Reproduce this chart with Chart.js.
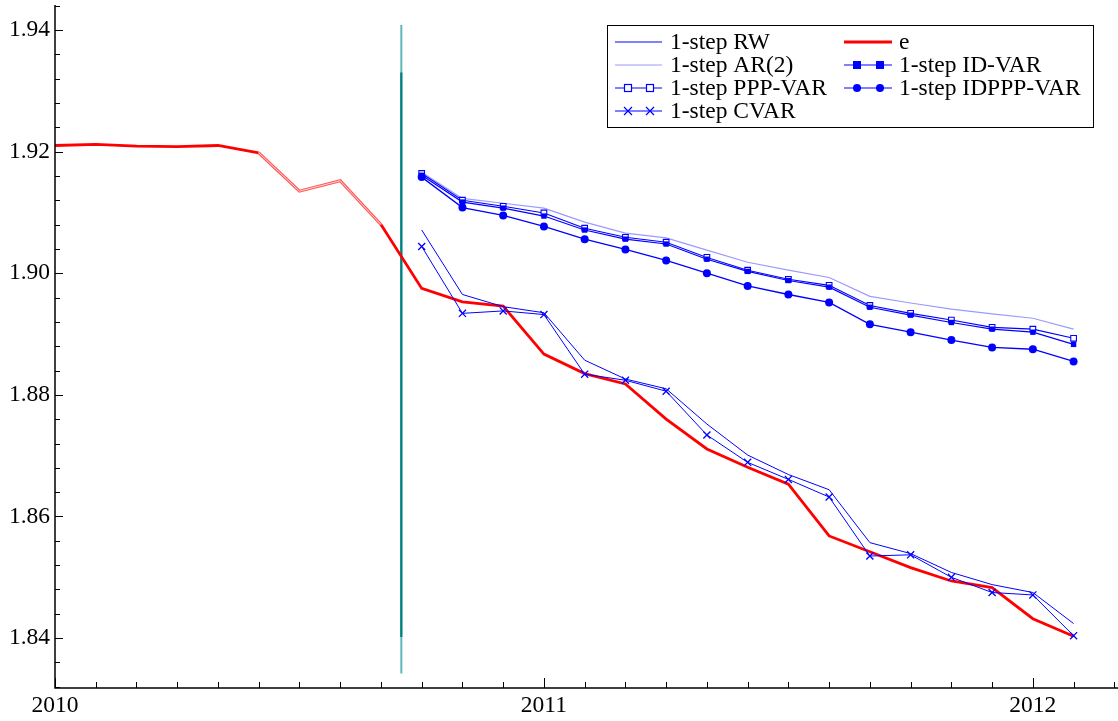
<!DOCTYPE html>
<html>
<head>
<meta charset="utf-8">
<script src="https://cdn.jsdelivr.net/npm/chart.js@4/dist/chart.umd.min.js"></script>
<style>
  html, body { margin: 0; padding: 0; background: #fff; }
  #wrap { width: 1118px; height: 721px; position: relative; }
</style>
</head>
<body>
<div id="wrap"><canvas id="c" width="1118" height="721"></canvas></div>
<script>
// ---- data (months counted from Jan 2010 = 0) ----
const actualMonths = [0,1,2,3,4,5,6,7,8,9,10,11,12,13,14,15,16,17,18,19,20,21,22,23,24,25];
const eValues = [1.9210,1.9212,1.9209,1.9208,1.9210,1.9198,1.9135,1.9152,1.9080,1.8975,1.8953,1.8946,1.8867,1.8835,1.8818,1.8760,1.8711,1.8681,1.8653,1.8568,1.8542,1.8516,1.8494,1.8483,1.8432,1.8403];
const forecastMonths = [9,10,11,12,13,14,15,16,17,18,19,20,21,22,23,24,25];
const rwValues    = [1.9071,1.8965,1.8945,1.8935,1.8857,1.8826,1.8810,1.8752,1.8701,1.8669,1.8644,1.8557,1.8539,1.8508,1.8488,1.8475,1.8424];
const ar2Values   = [1.9166,1.9123,1.9115,1.9107,1.9084,1.9066,1.9058,1.9038,1.9018,1.9005,1.8993,1.8962,1.8951,1.8941,1.8933,1.8926,1.8908];
const pppValues   = [1.9164,1.9120,1.9110,1.9099,1.9074,1.9059,1.9051,1.9026,1.9005,1.8990,1.8980,1.8947,1.8934,1.8923,1.8911,1.8908,1.8893];
const cvarValues  = [1.9044,1.8934,1.8938,1.8932,1.8834,1.8824,1.8806,1.8734,1.8689,1.8661,1.8632,1.8535,1.8537,1.8500,1.8475,1.8471,1.8404];
const idvarValues = [1.9161,1.9117,1.9107,1.9094,1.9071,1.9056,1.9048,1.9023,1.9003,1.8988,1.8977,1.8944,1.8931,1.8919,1.8908,1.8903,1.8883];
const idpppValues = [1.9158,1.9108,1.9095,1.9077,1.9056,1.9039,1.9021,1.9000,1.8979,1.8965,1.8952,1.8916,1.8903,1.8890,1.8878,1.8875,1.8855];
// forecast-origin marker line
const originMonth = 8.5;
const originRange = [1.9408, 1.8342];
const originCore = [1.9330, 1.8402];
// axis ticks
const yTickValues = [1.84,1.86,1.88,1.90,1.92,1.94];
const xTickValues = [0,12,24];
const xTickLabels = ['2010','2011','2012'];

const pts = (xs, ys) => xs.map((x, i) => ({x: x, y: ys[i]}));

const BLUE = '#0000ff';
const FONT = '"Liberation Serif", "Times New Roman", serif';
const FONT_SIZE = 23.5;

const legendItems = [
  {label: '1-step RW', color: BLUE, width: 1, marker: null, col: 0, row: 0},
  {label: '1-step AR(2)', color: '#9a9aff', width: 1, marker: null, col: 0, row: 1},
  {label: '1-step PPP-VAR', color: BLUE, width: 1.2, marker: 'openRect', col: 0, row: 2},
  {label: '1-step CVAR', color: BLUE, width: 1.2, marker: 'cross', col: 0, row: 3},
  {label: 'e', color: '#ff0000', width: 2.8, marker: null, col: 1, row: 0},
  {label: '1-step ID-VAR', color: BLUE, width: 1.2, marker: 'rect', col: 1, row: 1},
  {label: '1-step IDPPP-VAR', color: BLUE, width: 1.2, marker: 'circle', col: 1, row: 2}
];

function drawMarker(ctx, type, x, y, color) {
  ctx.save();
  ctx.strokeStyle = color; ctx.fillStyle = color; ctx.lineWidth = 1.2;
  if (type === 'rect') { ctx.fillRect(x - 4, y - 4, 8, 8); }
  else if (type === 'openRect') { ctx.fillStyle = '#fff'; ctx.fillRect(x - 4, y - 4, 8, 8); ctx.strokeRect(x - 3.5, y - 3.5, 7, 7); }
  else if (type === 'circle') { ctx.beginPath(); ctx.arc(x, y, 4, 0, Math.PI * 2); ctx.fill(); }
  else if (type === 'cross') { ctx.beginPath(); ctx.moveTo(x - 4, y - 4); ctx.lineTo(x + 4, y + 4); ctx.moveTo(x + 4, y - 4); ctx.lineTo(x - 4, y + 4); ctx.stroke(); }
  ctx.restore();
}

const axesPlugin = {
  id: 'axesPlugin',
  afterDraw(chart) {
    const ctx = chart.ctx;
    const xs = chart.scales.x, ys = chart.scales.y;
    const area = chart.chartArea;
    ctx.save();
    ctx.strokeStyle = '#000';
    ctx.lineWidth = 1.5;
    ctx.beginPath();
    ctx.moveTo(area.left, area.top); ctx.lineTo(area.left, area.bottom);
    ctx.lineTo(area.right, area.bottom);
    ctx.stroke();
    ctx.lineWidth = 1;
    // x ticks (monthly, inward)
    ctx.beginPath();
    for (let m = 0; m <= xs.max; m++) {
      const px = Math.round(xs.getPixelForValue(m)) + 0.5;
      const len = (m % 12 === 0) ? 10 : 6;
      ctx.moveTo(px, area.bottom); ctx.lineTo(px, area.bottom - len);
    }
    // y ticks (every 0.004, inward)
    for (let k = 0; ; k++) {
      const v = 1.832 + k * 0.004;
      if (v > ys.max) break;
      const py = Math.round(ys.getPixelForValue(v)) + 0.5;
      const major = Math.abs(((v - 1.84) / 0.02) - Math.round((v - 1.84) / 0.02)) < 1e-6;
      const len = major ? 8 : 5;
      ctx.moveTo(area.left, py); ctx.lineTo(area.left + len, py);
    }
    ctx.stroke();
    ctx.restore();

    // legend
    const bx = 607, by = 25, bw = 486, bh = 102;
    ctx.save();
    ctx.fillStyle = '#fff';
    ctx.fillRect(bx, by, bw, bh);
    ctx.strokeStyle = '#000'; ctx.lineWidth = 1;
    ctx.strokeRect(bx + 0.5, by + 0.5, bw, bh);
    const rowsY = [42, 65, 88, 111];
    const colX = [{l0: 615, l1: 662, m: [628, 650], tx: 670}, {l0: 844, l1: 892, m: [857, 880], tx: 899}];
    ctx.font = FONT_SIZE + 'px ' + FONT;
    ctx.textBaseline = 'middle';
    legendItems.forEach(it => {
      const c = colX[it.col], y = rowsY[it.row];
      ctx.strokeStyle = it.color; ctx.lineWidth = it.width;
      ctx.beginPath(); ctx.moveTo(c.l0, y); ctx.lineTo(c.l1, y); ctx.stroke();
      if (it.marker) { c.m.forEach(mx => drawMarker(ctx, it.marker, mx, y, it.color)); }
      ctx.fillStyle = '#000';
      ctx.fillText(it.label, c.tx, y + 1);
    });
    ctx.restore();
  }
};

const commonLine = { fill: false, tension: 0, pointHoverRadius: 0 };
const zeroPad = s => { s.paddingTop = 0; s.paddingBottom = 0; s.paddingLeft = 0; s.paddingRight = 0; };

const ctx = document.getElementById('c').getContext('2d');
new Chart(ctx, {
  type: 'line',
  data: {
    datasets: [
      Object.assign({}, commonLine, { label: 'origin-light', data: pts([originMonth, originMonth], originRange), borderColor: '#5fb8b8', borderWidth: 2, pointRadius: 0, order: 20 }),
      Object.assign({}, commonLine, { label: 'origin', data: pts([originMonth, originMonth], originCore), borderColor: '#008080', borderWidth: 2.2, pointRadius: 0, order: 19 }),
      Object.assign({}, commonLine, { label: 'e', data: pts(actualMonths, eValues), borderColor: '#ff0000', borderWidth: 2.8, pointRadius: 0, order: 10,
        segment: { borderColor: c => (c.p0DataIndex >= 5 && c.p1DataIndex <= 8) ? '#ff5a5a' : undefined, borderWidth: c => (c.p0DataIndex >= 5 && c.p1DataIndex <= 8) ? 3 : undefined } }),
      Object.assign({}, commonLine, { label: 'e-inner', data: pts(actualMonths.slice(5, 9), eValues.slice(5, 9)), borderColor: '#ffdede', borderWidth: 0.9, pointRadius: 0, order: 9 }),
      Object.assign({}, commonLine, { label: '1-step AR(2)', data: pts(forecastMonths, ar2Values), borderColor: '#9a9aff', borderWidth: 1.2, pointRadius: 0, order: 5 }),
      Object.assign({}, commonLine, { label: '1-step RW', data: pts(forecastMonths, rwValues), borderColor: BLUE, borderWidth: 1, pointRadius: 0, order: 4 }),
      Object.assign({}, commonLine, { label: '1-step PPP-VAR', data: pts(forecastMonths, pppValues), borderColor: BLUE, borderWidth: 1.1, pointStyle: 'rect', pointRadius: 4, pointBackgroundColor: '#fff', pointBorderColor: BLUE, pointBorderWidth: 1.1, order: 3 }),
      Object.assign({}, commonLine, { label: '1-step ID-VAR', data: pts(forecastMonths, idvarValues), borderColor: BLUE, borderWidth: 1.2, pointStyle: 'rect', pointRadius: 3.8, pointBackgroundColor: BLUE, pointBorderColor: BLUE, pointBorderWidth: 0, order: 2 }),
      Object.assign({}, commonLine, { label: '1-step IDPPP-VAR', data: pts(forecastMonths, idpppValues), borderColor: BLUE, borderWidth: 1.3, pointStyle: 'circle', pointRadius: 4, pointBackgroundColor: BLUE, pointBorderColor: BLUE, pointBorderWidth: 0, order: 1 }),
      Object.assign({}, commonLine, { label: '1-step CVAR', data: pts(forecastMonths, cvarValues), borderColor: BLUE, borderWidth: 1, pointStyle: 'crossRot', pointRadius: 5, pointBorderColor: BLUE, pointBorderWidth: 1.3, order: 0 })
    ]
  },
  options: {
    responsive: false,
    animation: false,
    events: [],
    layout: { autoPadding: false, padding: { top: 5, right: 0, left: 0, bottom: 0 } },
    plugins: { legend: { display: false }, tooltip: { enabled: false } },
    scales: {
      x: {
        type: 'linear', min: 0, max: 26.09,
        grid: { display: false, drawTicks: false },
        border: { display: false },
        afterBuildTicks: s => { s.ticks = xTickValues.map(v => ({ value: v })); },
        afterFit: s => { s.height = 33; zeroPad(s); },
        ticks: { autoSkip: false, maxRotation: 0, padding: 4, color: '#000', font: { family: FONT, size: FONT_SIZE },
          callback: v => { const i = xTickValues.indexOf(v); return i >= 0 ? xTickLabels[i] : ''; } }
      },
      y: {
        type: 'linear', min: 1.8318, max: 1.9441,
        grid: { display: false, drawTicks: false },
        border: { display: false },
        afterBuildTicks: s => { s.ticks = yTickValues.map(v => ({ value: v })); },
        afterFit: s => { s.width = 55; zeroPad(s); },
        ticks: { padding: 5, color: '#000', font: { family: FONT, size: FONT_SIZE }, callback: v => v.toFixed(2) }
      }
    }
  },
  plugins: [axesPlugin]
});
</script>
</body>
</html>
